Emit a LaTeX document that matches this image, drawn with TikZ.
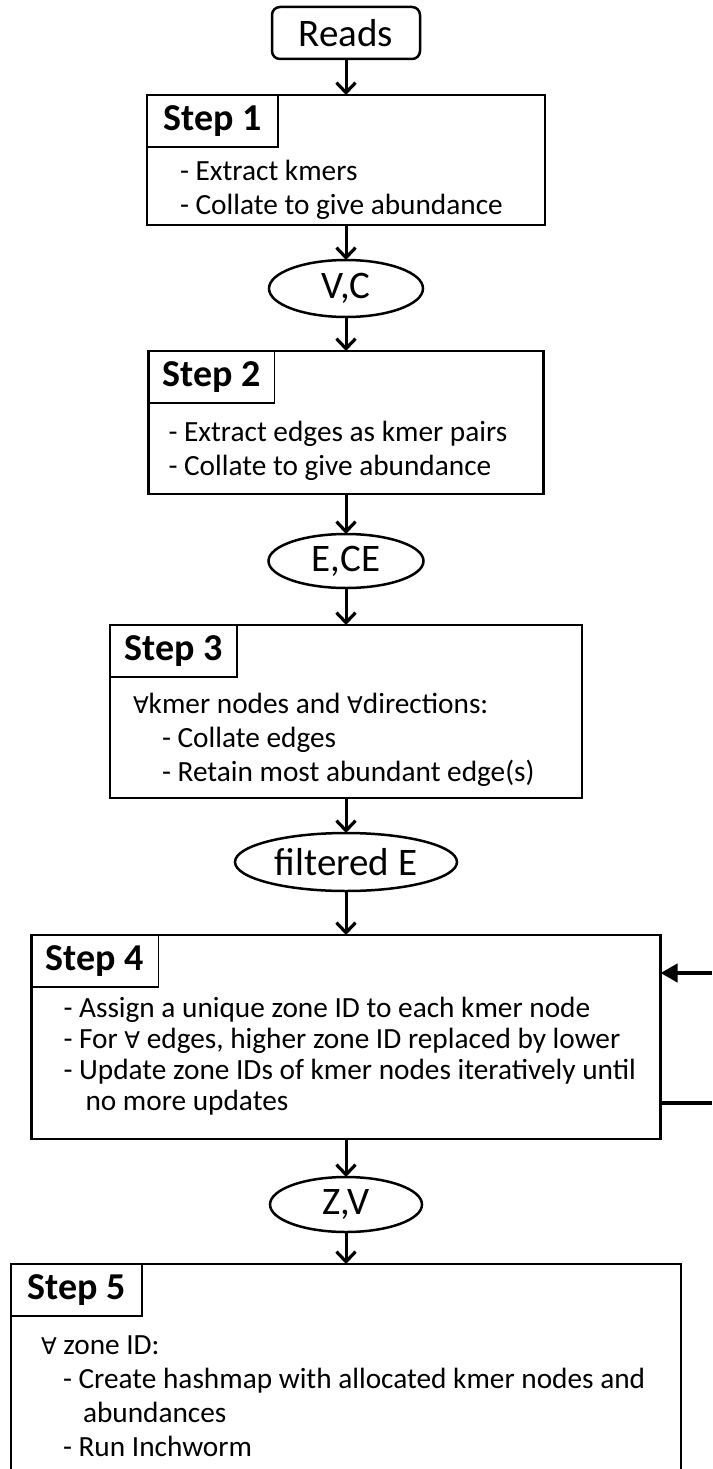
\documentclass[tikz,border=0pt]{standalone}
\usepackage{fontspec}
\setmainfont{Carlito}
\newfontfamily\symfont{DejaVu Sans}
\usetikzlibrary{positioning,shapes.geometric,arrows.meta}
\newcommand{\forallsym}{{\symfont\fontsize{23}{23}\selectfont ∀}}

\begin{document}
\begin{tikzpicture}[x=1pt, y=-1pt,
		every node/.style={inner sep=0pt, outer sep=0pt, font=\fontsize{29.3}{34}\selectfont},
		flow/.style={-{Straight Barb[length=10pt,width=19pt,line width=3.2pt]}, line width=3pt}]
	\tikzstyle{startbox}=[draw, rounded corners=8pt, line width=2.5pt, minimum width=148pt, minimum height=52pt, font=\fontsize{39}{42}\selectfont]
	\tikzstyle{stepbox}=[draw, line width=2.5pt]
	\tikzstyle{titlebox}=[draw, line width=1.5pt, anchor=north west, minimum width=128pt, minimum height=52pt, font=\bfseries\fontsize{38}{42}\selectfont]
	\tikzstyle{databox}=[draw, ellipse, line width=2.5pt, font=\fontsize{39}{42}\selectfont]
	\tikzstyle{bodytext}=[anchor=base west, align=left]
	\path[use as bounding box, clip] (0,0) rectangle (712,1469);
		% main column
		\node[startbox] (reads) at (346,33) {Reads};
		\node[stepbox, minimum width=398pt, minimum height=130pt, below=36pt of reads] (step1) {};
		\node[databox, minimum width=154pt, minimum height=57pt, below=35pt of step1] (vc) {V,C};
		\node[stepbox, minimum width=395pt, minimum height=143pt, below=34pt of vc] (step2) {};
		\node[databox, minimum width=155pt, minimum height=54pt, below=40pt of step2] (ece) {E,CE};
		\node[stepbox, minimum width=472pt, minimum height=173pt, below=37pt of ece] (step3) {};
		\node[databox, minimum width=222pt, minimum height=58pt, below=35pt of step3] (filtE) {filtered E};
		\node[stepbox, minimum width=629pt, minimum height=204pt, below=44pt of filtE] (step4) {};
		\node[databox, minimum width=152pt, minimum height=55pt, below=38pt of step4] (zv) {Z,V};
		\node[stepbox, minimum width=670pt, minimum height=260pt, below=32pt of zv] (step5) {};
		% step titles
		\node[titlebox, minimum width=131pt] (step1title) at (step1.north west) {Step 1};
		\node[titlebox, minimum width=126pt] (step2title) at (step2.north west) {Step 2};
		\node[titlebox, minimum width=127pt] (step3title) at (step3.north west) {Step 3};
		\node[titlebox, minimum width=127pt] (step4title) at (step4.north west) {Step 4};
		\node[titlebox, minimum width=131pt] (step5title) at (step5.north west) {Step 5};
		% step texts (base = last line)
		\node[bodytext] (step1text) at ([shift={(33,119)}]step1.north west)
			{- Extract kmers\\- Collate to give abundance};
		\node[bodytext] (step2text) at ([shift={(20,124)}]step2.north west)
			{- Extract edges as kmer pairs\\- Collate to give abundance};
		\node[bodytext] (step3text) at ([shift={(23,156)}]step3.north west)
			{\forallsym kmer nodes and \forallsym directions:\\
			\hspace*{29pt}- Collate edges\\
			\hspace*{29pt}- Retain most abundant edge(s)};
		\node[bodytext, font=\fontsize{29.3}{31}\selectfont] (step4text) at ([shift={(32,175)}]step4.north west)
			{- Assign a unique zone ID to each kmer node\\
			- For \forallsym\ edges, higher zone ID replaced by lower\\
			- Update zone IDs of kmer nodes iteratively until\\
			\hspace*{22pt}no more updates};
		\node[bodytext] (step5text) at ([shift={(30,192)}]step5.north west)
			{\forallsym\ zone ID:\\
			\hspace*{22pt}- Create hashmap with allocated kmer nodes and\\
			\hspace*{42pt}abundances\\
			\hspace*{22pt}- Run Inchworm};
		% connectors
		\draw[flow] (reads.south) -- (step1.north);
		\draw[flow] (step1.south) -- (vc.north);
		\draw[flow] (vc.south) -- (step2.north);
		\draw[flow] (step2.south) -- (ece.north);
		\draw[flow] (ece.south) -- (step3.north);
		\draw[flow] (step3.south) -- (filtE.north);
		\draw[flow] (filtE.south) -- (step4.north);
		\draw[flow] (step4.south) -- (zv.north);
		\draw[flow] (zv.south) -- (step5.north);
		% iteration loop of step 4
		\coordinate (loopin) at (712,973);
		\coordinate (loopout) at (712,1103);
		\draw[-{Triangle[length=17pt,width=18pt]}, line width=4pt] (loopin) -- (loopin -| step4.east);
		\draw[line width=4pt] (loopout -| step4.east) -- (loopout);
\end{tikzpicture}
\end{document}
